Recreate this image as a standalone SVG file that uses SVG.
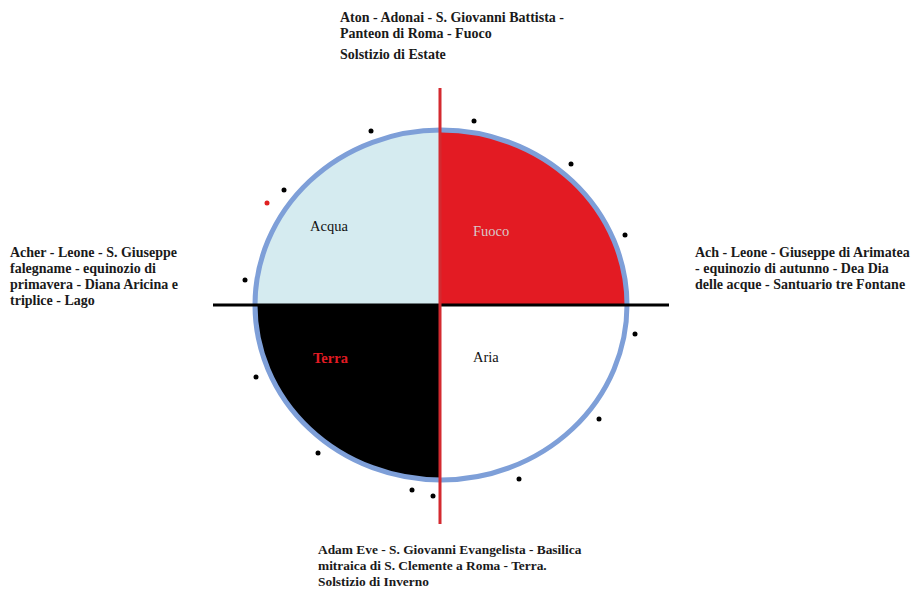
<svg xmlns="http://www.w3.org/2000/svg" width="923" height="590" viewBox="0 0 923 590">
<style>
.t{font-family:"Liberation Serif","Times New Roman",serif;font-size:14px;font-weight:bold;fill:#1a1a1a}
.b{font-size:13.4px}
.q{font-family:"Liberation Serif","Times New Roman",serif;font-size:14.5px}
.d{fill:#000}
</style>
<rect width="923" height="590" fill="#fff"/>
<g id="circle">
<path d="M441,305 L441,130 A186,175 0 0 0 255,305 Z" fill="#D5EBF0"/>
<path d="M441,305 L441,130 A186,175 0 0 1 627,305 Z" fill="#E31B23"/>
<path d="M441,305 L255,305 A186,175 0 0 0 441,480 Z" fill="#000"/>
<ellipse cx="441" cy="305" rx="186" ry="175" fill="none" stroke="#7E9FD8" stroke-width="5"/>
</g>
<g id="axes">
<line x1="213" y1="305" x2="669" y2="305" stroke="#000" stroke-width="3"/>
<line x1="440" y1="88" x2="440" y2="524" stroke="#D42A30" stroke-width="3"/>
</g>
<g id="quadrant-labels">
<text class="q" x="310" y="231" fill="#111">Acqua</text>
<text class="q" x="473" y="236" fill="#d8c8c8">Fuoco</text>
<text class="q" x="313" y="363" fill="#E31B23" font-weight="bold">Terra</text>
<text class="q" x="473" y="362" fill="#111">Aria</text>
</g>
<g id="dots">
<circle class="d" cx="371" cy="131" r="2.5"/>
<circle class="d" cx="474" cy="121" r="2.5"/>
<circle class="d" cx="571" cy="164" r="2.5"/>
<circle class="d" cx="625" cy="235" r="2.5"/>
<circle class="d" cx="284" cy="190" r="2.5"/>
<circle cx="267" cy="203" r="2.5" fill="#E02020"/>
<circle class="d" cx="245" cy="280" r="2.5"/>
<circle class="d" cx="635" cy="334" r="2.5"/>
<circle class="d" cx="256" cy="377" r="2.5"/>
<circle class="d" cx="599" cy="419" r="2.5"/>
<circle class="d" cx="318" cy="453" r="2.5"/>
<circle class="d" cx="519" cy="479" r="2.5"/>
<circle class="d" cx="412" cy="490" r="2.5"/>
<circle class="d" cx="433" cy="496" r="2.5"/>
</g>
<g id="label-top">
<text class="t" x="340" y="22">Aton - Adonai - S. Giovanni Battista -</text>
<text class="t" x="340" y="38">Panteon di Roma - Fuoco</text>
<text class="t" x="340" y="59">Solstizio di Estate</text>
</g>
<g id="label-left">
<text class="t" x="10" y="257">Acher - Leone - S. Giuseppe</text>
<text class="t" x="10" y="273">falegname - equinozio di</text>
<text class="t" x="10" y="289">primavera - Diana Aricina e</text>
<text class="t" x="10" y="305">triplice - Lago</text>
</g>
<g id="label-right">
<text class="t" x="695" y="257">Ach - Leone - Giuseppe di Arimatea</text>
<text class="t" x="695" y="273">- equinozio di autunno - Dea Dia</text>
<text class="t" x="695" y="289">delle acque - Santuario tre Fontane</text>
</g>
<g id="label-bottom">
<text class="t b" x="318" y="554">Adam Eve - S. Giovanni Evangelista - Basilica</text>
<text class="t b" x="318" y="570">mitraica di S. Clemente a Roma - Terra.</text>
<text class="t b" x="318" y="586">Solstizio di Inverno</text>
</g>
</svg>
